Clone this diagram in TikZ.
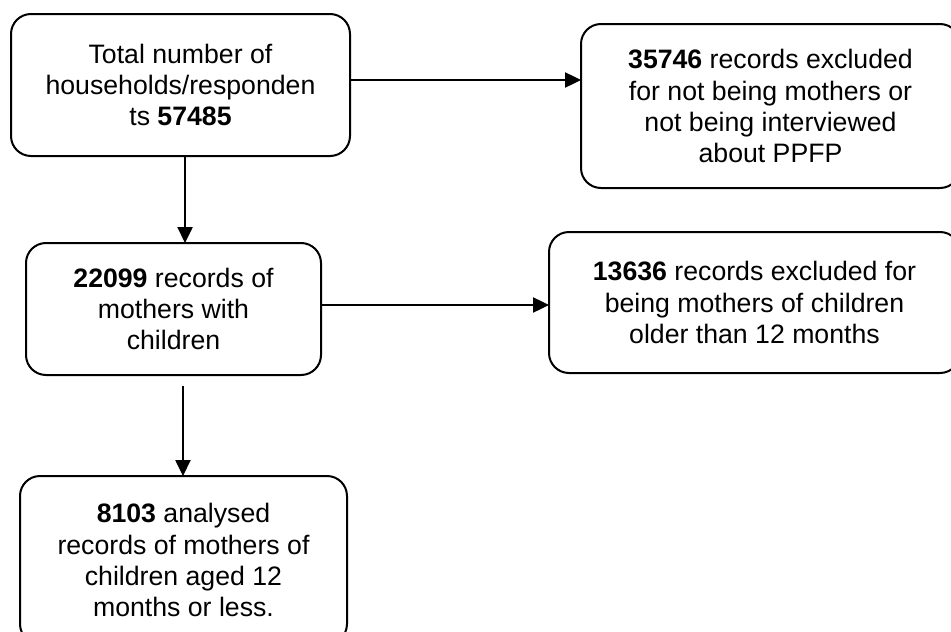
\documentclass[tikz,border=0pt]{standalone}
\usepackage{fontspec}
\setmainfont{Liberation Sans}
\usetikzlibrary{arrows.meta,positioning}

\begin{document}
\begin{tikzpicture}[>={Triangle[length=12pt,width=11.5pt]}]
  \tikzstyle{stage}=[rectangle,rounded corners=15pt,line width=1.5pt,draw=black,outer sep=0pt,inner sep=0pt,align=center,font=\fontsize{20pt}{23.3pt}\selectfont]
  \tikzstyle{flow}=[->,line width=0.9pt]

  \useasboundingbox (0,0) rectangle (713.25pt,-474pt);

  \begin{scope}
    % Left column
    \node [stage,minimum width=254.25pt,minimum height=106.5pt] (total) at (135.375pt,-63.75pt) {Total number of\\households/responden\\ts \textbf{57485}};
    \node [stage,minimum width=221.25pt,minimum height=99pt] (mothers) [below right = 65.25pt and 11.25pt of total.south west, anchor=north west] {\textbf{22099} records of\\mothers with\\children};
    \node [stage,minimum width=245.25pt,minimum height=126pt] (analysed) [below left = 75.75pt and 4.5pt of mothers.south west, anchor=north west] {\textbf{8103} analysed\\records of mothers of\\children aged 12\\months or less.};
    % Right column
    \node [stage,minimum width=284.25pt,minimum height=123pt] (excl) [below right = 7.5pt and 173.25pt of total.north east, anchor=north west] {\textbf{35746} records excluded\\for not being mothers or\\not being interviewed\\about PPFP};
    \node [stage,minimum width=308.25pt,minimum height=105.75pt] (older) [below left = 33pt and 24pt of excl.south west, anchor=north west] {\textbf{13636} records excluded for\\being mothers of children\\older than 12 months};
  \end{scope}

  \begin{scope}
    \draw [flow] ([xshift=3.4pt]total.south) -- ([xshift=3.4pt]total.south |- mothers.north);
    \draw [flow] ([yshift=3.75pt]total.east) -- ([yshift=3.75pt]total.east -| excl.west);
    \draw [flow] ([yshift=3pt]mothers.east) -- ([yshift=3pt]mothers.east -| older.west);
    \draw [flow] ([xshift=7.1pt,yshift=-8.25pt]mothers.south) -- ([xshift=7.1pt]mothers.south |- analysed.north);
  \end{scope}
\end{tikzpicture}
\end{document}
